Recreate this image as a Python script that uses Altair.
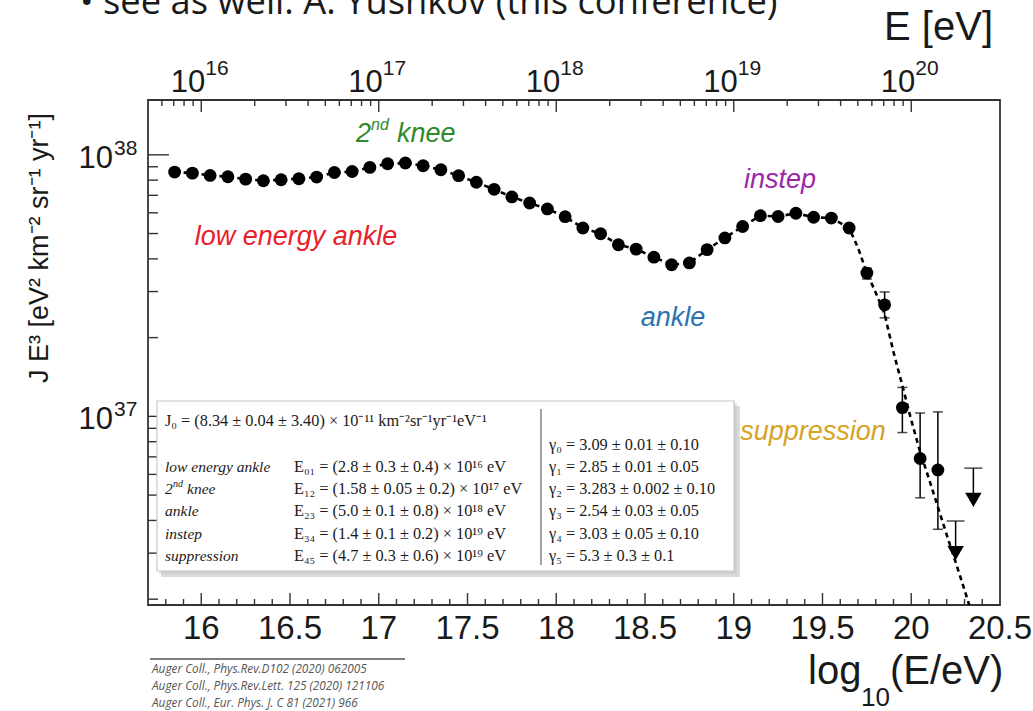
import math
import altair as alt
import pandas as pd

# ---------------- data ----------------
log_e = [15.85, 15.95, 16.05, 16.15, 16.25, 16.35, 16.45, 16.55, 16.65, 16.75,
         16.85, 16.95, 17.05, 17.15, 17.25, 17.35, 17.45, 17.55, 17.65, 17.75,
         17.85, 17.95, 18.05, 18.15, 18.25, 18.35, 18.45, 18.55, 18.65, 18.75,
         18.85, 18.95, 19.05, 19.15, 19.25, 19.35, 19.45, 19.55, 19.65, 19.75,
         19.85, 19.95, 20.05, 20.15]
flux = [8.59e37, 8.51e37, 8.34e37, 8.24e37, 8.07e37, 7.96e37, 8.03e37, 8.10e37, 8.22e37, 8.56e37,
        8.63e37, 8.95e37, 9.24e37, 9.30e37, 9.08e37, 8.77e37, 8.32e37, 7.85e37, 7.38e37, 6.90e37,
        6.54e37, 6.21e37, 5.80e37, 5.25e37, 4.99e37, 4.53e37, 4.36e37, 4.06e37, 3.80e37, 3.86e37,
        4.34e37, 4.81e37, 5.32e37, 5.85e37, 5.81e37, 5.98e37, 5.77e37, 5.73e37, 5.25e37, 3.53e37,
        2.67e37, 1.08e37, 6.90e36, 6.24e36]

err_log_e = [19.75, 19.85, 19.95, 20.05, 20.15]
err_lo = [3.35e37, 2.38e37, 8.67e36, 4.88e36, 3.70e36]
err_hi = [3.69e37, 2.99e37, 1.29e37, 1.03e37, 1.04e37]

ul_log_e = [20.25, 20.35]
ul_cap = [3.98e36, 6.34e36]
ul_arrow = [3.00e36, 4.79e36]

fit_tail_log_e = [19.70, 19.75, 19.80, 19.85, 19.90, 19.95, 20.00, 20.05, 20.10, 20.15, 20.20, 20.25, 20.30, 20.35]
fit_tail_j = [4.41e37, 3.53e37, 2.97e37, 2.46e37, 1.76e37, 1.31e37, 9.68e36, 7.31e36, 5.77e36, 4.50e36,
              3.52e36, 2.77e36, 2.17e36, 1.69e36]

bottom_tick_labels = ["16", "16.5", "17", "17.5", "18", "18.5", "19", "19.5", "20", "20.5"]
bottom_tick_values = [16.0, 16.5, 17.0, 17.5, 18.0, 18.5, 19.0, 19.5, 20.0, 20.5]
top_exponents = ["16", "17", "18", "19", "20"]
top_values = [16, 17, 18, 19, 20]
left_exponents = ["37", "38"]
left_values = [1e37, 1e38]

feature_names = ["low energy ankle", "2nd knee", "ankle", "instep", "suppression"]
break_texts = ["E₀₁ = (2.8 ± 0.3 ± 0.4) × 10¹⁶ eV",
               "E₁₂ = (1.58 ± 0.05 ± 0.2) × 10¹⁷ eV",
               "E₂₃ = (5.0 ± 0.1 ± 0.8) × 10¹⁸ eV",
               "E₃₄ = (1.4 ± 0.1 ± 0.2) × 10¹⁹ eV",
               "E₄₅ = (4.7 ± 0.3 ± 0.6) × 10¹⁹ eV"]
gamma_texts = ["γ₀ = 3.09 ± 0.01 ± 0.10",
               "γ₁ = 2.85 ± 0.01 ± 0.05",
               "γ₂ = 3.283 ± 0.002 ± 0.10",
               "γ₃ = 2.54 ± 0.03 ± 0.05",
               "γ₄ = 3.03 ± 0.05 ± 0.10",
               "γ₅ = 5.3 ± 0.3 ± 0.1"]
j0_text = "J₀ = (8.34 ± 0.04 ± 3.40) × 10⁻¹¹ km⁻²sr⁻¹yr⁻¹eV⁻¹"
references = ["Auger Coll., Phys.Rev.D102 (2020) 062005",
              "Auger Coll., Phys.Rev.Lett. 125 (2020) 121106",
              "Auger Coll., Eur. Phys. J. C 81 (2021) 966"]

# ---------------- layout ----------------
L, T = 148, 100
W, H = 852, 505
SANS = "Liberation Sans, Arial, Helvetica, sans-serif"
SERIF = "Liberation Serif, Times New Roman, serif"
INK = "#1a1a1a"

xsc = alt.Scale(domain=[15.7, 20.5], nice=False, zero=False)
ysc = alt.Scale(type="log", domain=[1.9e36, 1.62e38], nice=False)


def X(f):
    return alt.X(f"{f}:Q", scale=xsc, axis=None)


def Y(f):
    return alt.Y(f"{f}:Q", scale=ysc, axis=None)


one = pd.DataFrame({"d": [0]})


def txt(s, px, py, size, color=INK, font=SANS, italic=False, align="left",
        baseline="alphabetic", angle=None):
    kw = dict(text=s, fontSize=size, color=color, font=font, align=align, baseline=baseline)
    if italic:
        kw["fontStyle"] = "italic"
    if angle is not None:
        kw["angle"] = angle
    return alt.Chart(one).mark_text(**kw).encode(x=alt.value(px - L), y=alt.value(py - T))


def box(x1, y1, x2, y2, **kw):
    return alt.Chart(one).mark_rect(**kw).encode(
        x=alt.value(x1 - L), x2=alt.value(x2 - L), y=alt.value(y1 - T), y2=alt.value(y2 - T))


def hline(x1, x2, y, **kw):
    return alt.Chart(one).mark_rule(**kw).encode(
        x=alt.value(x1 - L), x2=alt.value(x2 - L), y=alt.value(y - T))


def vline(x, y1, y2, **kw):
    return alt.Chart(one).mark_rule(**kw).encode(
        x=alt.value(x - L), y=alt.value(y1 - T), y2=alt.value(y2 - T))


layers = []

# ---- axis ticks (inward) ----
bot_major = pd.DataFrame({"x": bottom_tick_values[:-1]})
bot_minor = pd.DataFrame({"x": [round(15.8 + 0.1 * i, 1) for i in range(47)
                                if abs((15.8 + 0.1 * i) * 2 - round((15.8 + 0.1 * i) * 2)) > 1e-6]})
top_major = pd.DataFrame({"x": top_values})
top_minor = pd.DataFrame({"x": [math.log10(k) + n for n in range(15, 20) for k in range(2, 10)
                                if 15.7 < math.log10(k) + n < 20.0]})
left_major = pd.DataFrame({"y": left_values})
left_minor = pd.DataFrame({"y": [k * 10.0 ** n for n in (36, 37) for k in range(2, 10)
                                 if 1.9e36 < k * 10.0 ** n < 1.62e38]})

tick_style = dict(color="#333", strokeWidth=1.4)
layers += [
    alt.Chart(bot_major).mark_rule(**tick_style).encode(x=X("x"), y=alt.value(H), y2=alt.value(H - 12)),
    alt.Chart(bot_minor).mark_rule(**tick_style).encode(x=X("x"), y=alt.value(H), y2=alt.value(H - 6)),
    alt.Chart(top_major).mark_rule(**tick_style).encode(x=X("x"), y=alt.value(0), y2=alt.value(12)),
    alt.Chart(top_minor).mark_rule(**tick_style).encode(x=X("x"), y=alt.value(0), y2=alt.value(6)),
    alt.Chart(left_major).mark_rule(**tick_style).encode(y=Y("y"), x=alt.value(0), x2=alt.value(21)),
    alt.Chart(left_minor).mark_rule(**tick_style).encode(y=Y("y"), x=alt.value(0), x2=alt.value(10)),
]

# ---- tick labels ----
bl = pd.DataFrame({"x": bottom_tick_values, "t": bottom_tick_labels})
layers.append(alt.Chart(bl).mark_text(fontSize=33, font=SANS, color=INK, baseline="alphabetic")
              .encode(x=X("x"), y=alt.value(639 - T), text="t:N"))
tl = pd.DataFrame({"x": top_values, "e": top_exponents})
layers.append(alt.Chart(tl).mark_text(text="10", fontSize=31, font=SANS, color=INK, align="right",
                                      dx=4, baseline="alphabetic")
              .encode(x=X("x"), y=alt.value(92 - T)))
layers.append(alt.Chart(tl).mark_text(fontSize=21, font=SANS, color=INK, align="left",
                                      dx=4, baseline="alphabetic")
              .encode(x=X("x"), y=alt.value(75 - T), text="e:N"))
ll = pd.DataFrame({"y": left_values, "e": left_exponents})
layers.append(alt.Chart(ll).mark_text(text="10", fontSize=31, font=SANS, color=INK, align="right",
                                      dy=13, baseline="alphabetic")
              .encode(y=Y("y"), x=alt.value(113 - L)))
layers.append(alt.Chart(ll).mark_text(fontSize=21, font=SANS, color=INK, align="left",
                                      dy=0, baseline="alphabetic")
              .encode(y=Y("y"), x=alt.value(114 - L), text="e:N"))

# ---- fit line ----
fit = pd.DataFrame({"x": log_e[:39] + fit_tail_log_e, "y": flux[:39] + fit_tail_j})
layers.append(alt.Chart(fit).mark_line(color="black", strokeWidth=2.6, strokeDash=[5, 4], clip=True)
              .encode(x=X("x"), y=Y("y"), order="x:Q"))

# ---- error bars ----
err = pd.DataFrame({"x": err_log_e, "lo": err_lo, "hi": err_hi})
layers.append(alt.Chart(err).mark_rule(color="black", strokeWidth=1.5)
              .encode(x=X("x"), y=Y("lo"), y2="hi:Q"))
layers.append(alt.Chart(err).mark_tick(color="black", orient="horizontal", size=10, thickness=1.5)
              .encode(x=X("x"), y=Y("lo")))
layers.append(alt.Chart(err).mark_tick(color="black", orient="horizontal", size=10, thickness=1.5)
              .encode(x=X("x"), y=Y("hi")))

# ---- data points ----
pts = pd.DataFrame({"x": log_e, "y": flux})
layers.append(alt.Chart(pts).mark_circle(size=165, color="black", opacity=1)
              .encode(x=X("x"), y=Y("y")))

# ---- upper limits ----
ul = pd.DataFrame({"x": ul_log_e, "cap": ul_cap, "arrow": ul_arrow})
layers.append(alt.Chart(ul).mark_rule(color="black", strokeWidth=1.5)
              .encode(x=X("x"), y=Y("cap"), y2="arrow:Q"))
layers.append(alt.Chart(ul).mark_tick(color="black", orient="horizontal", size=18, thickness=1.5)
              .encode(x=X("x"), y=Y("cap")))
layers.append(alt.Chart(ul).mark_point(shape="triangle-down", filled=True, size=270, color="black", opacity=1)
              .encode(x=X("x"), y=Y("arrow")))

# ---- feature annotations ----
layers += [
    txt("2", 356, 142, 27, color="#2f8a2a", italic=True),
    txt("nd", 371, 130, 16, color="#2f8a2a", italic=True),
    txt("knee", 397, 142, 27, color="#2f8a2a", italic=True),
    txt("low energy ankle", 296, 237, 27, color="#e8202a", italic=True, align="center", baseline="middle"),
    txt("instep", 780, 180, 27, color="#9b27a8", italic=True, align="center", baseline="middle"),
    txt("ankle", 673, 318, 27, color="#2a72b0", italic=True, align="center", baseline="middle"),
    txt("suppression", 813, 432, 27, color="#d6a322", italic=True, align="center", baseline="middle"),
]

# ---- fit-parameter table ----
FS = 16.3
layers += [
    box(161, 406, 740, 577, color="#999", opacity=0.35),
    box(159, 403, 737, 574, color="#bbb", opacity=0.35),
    box(157, 401, 734, 571, fill="white", stroke="#c8c8c8", strokeWidth=1.2),
    vline(541, 409, 565, color="#444", strokeWidth=1),
    txt(j0_text, 165, 421, FS, font=SERIF, baseline="middle"),
    txt(gamma_texts[0], 549, 445, FS, font=SERIF, baseline="middle"),
]
row_y = [467, 489, 511, 534, 556]
for i, ry in enumerate(row_y):
    if feature_names[i] == "2nd knee":
        layers += [txt("2", 165, ry, 15.5, font=SERIF, italic=True, baseline="middle"),
                   txt("nd", 173, ry - 5, 10, font=SERIF, italic=True, baseline="middle"),
                   txt("knee", 187, ry, 15.5, font=SERIF, italic=True, baseline="middle")]
    else:
        layers.append(txt(feature_names[i], 165, ry, 15.5, font=SERIF, italic=True, baseline="middle"))
    layers.append(txt(break_texts[i], 294, ry, FS, font=SERIF, baseline="middle"))
    layers.append(txt(gamma_texts[i + 1], 549, ry, FS, font=SERIF, baseline="middle"))

# ---- axis titles ----
layers += [
    txt("E [eV]", 993, 40, 40, align="right"),
    txt("log", 808, 684, 40),
    txt("10", 861, 706, 26),
    txt("(E/eV)", 890, 684, 40),
    txt("J E³ [eV² km⁻² sr⁻¹ yr⁻¹]", 40, 248, 27, angle=270, align="center", baseline="middle"),
]

# ---- slide remnants: header and references ----
layers += [
    txt("•", 80, 14, 36, font="Open Sans, sans-serif"),
    txt("see as well: A. Yushkov (this conference)", 103, 14, 36.3, font="Open Sans, sans-serif"),
    hline(150, 405, 659, color="#555", strokeWidth=1.5),
]
for i, r in enumerate(references):
    layers.append(txt(r, 152, 669 + 17 * i, 11.8, color="#555", font="Open Sans, sans-serif",
                      italic=True, baseline="middle"))

chart = alt.layer(*layers).properties(
    width=W, height=H,
    padding={"left": L, "top": T, "right": 1033 - L - W, "bottom": 711 - T - H},
    autosize=alt.AutoSizeParams(type="none"),
    background="white",
).configure_view(stroke="#333", strokeWidth=1.8)

chart.save("out.html", embed_options={"renderer": "svg", "actions": False})
